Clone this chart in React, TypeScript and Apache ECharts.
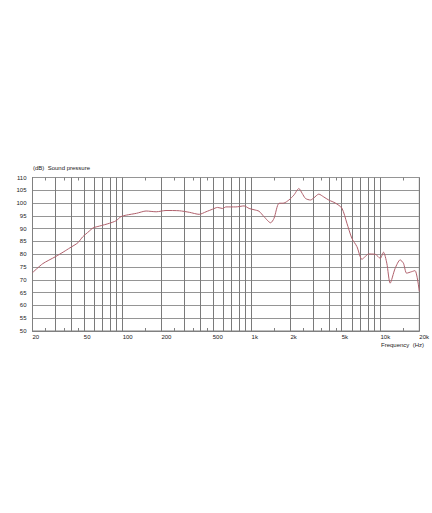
import React, { useEffect, useRef } from "react";
import * as echarts from "echarts";

const frequencies = [
  20, 24, 30, 35, 39, 45, 49, 55, 59, 66, 79, 89, 97, 107, 128, 152, 182, 217, 275, 329,
  393, 443, 498, 544, 595, 632, 755, 875, 957, 1045, 1143, 1248, 1406, 1492, 1630, 1782,
  1946, 2128, 2327, 2468, 2620, 2864, 3037, 3320, 3630, 3965, 4470, 5020, 5490, 6000,
  6560, 7170, 7610, 8070, 9100, 9950, 10550, 11190, 11880, 12990, 14200, 15060, 15950,
  17450, 18530, 20000,
];
const soundPressure = [
  72.8, 76.3, 79, 81, 82.5, 84.5, 86.8, 89, 90.3, 91, 92.1, 93.1, 94.7, 95.3, 96, 96.9,
  96.6, 97.1, 97, 96.4, 95.6, 96.6, 97.6, 98.3, 97.9, 98.5, 98.5, 98.9, 97.9, 97.4, 96.8,
  94.7, 92.3, 94, 99.9, 100, 101.2, 103.1, 105.7, 103.8, 101.8, 101.2, 102, 103.5, 102.4,
  101.2, 100, 98, 92.1, 86.2, 83, 78, 79.1, 80.1, 80, 78.4, 80.8, 76.5, 68.7, 74.5, 77.8,
  76.5, 72.6, 73.2, 73.6, 65.5,
];
const xLabelValues = [20, 50, 100, 200, 500, 1000, 2000, 5000, 10000, 20000];
const xLabelTexts = ["20", "50", "100", "200", "500", "1k", "2k", "5k", "10k", "20k"];
const xGridValues = [
  20, 30, 40, 50, 60, 70, 80, 90, 100, 200, 300, 400, 500, 600, 700, 800, 900, 1000, 2000,
  3000, 4000, 5000, 6000, 7000, 8000, 9000, 10000, 20000,
];
const xMinorTicks = [25, 35, 45, 150, 250, 350, 450, 1500, 2500, 3500, 4500, 15000];
const yMin = 50;
const yMax = 110;
const yStep = 5;
const titleText = "(dB)  Sound pressure";
const xAxisTitle = "Frequency  (Hz)";

const FONT = "'Liberation Sans', Arial, sans-serif";
const FS = 6;

export default function App() {
  const ref = useRef<HTMLDivElement>(null);
  useEffect(() => {
    if (!ref.current) return;
    const chart = echarts.init(ref.current, null, { renderer: "svg" });
    const labelMap: Record<string, string> = {};
    xLabelValues.forEach((v, i) => (labelMap[String(v)] = xLabelTexts[i]));
    const gridPos = { left: 32.5, right: 11, top: 177.5, bottom: 182 };
    const baseLog = {
      type: "log" as const,
      logBase: 10,
      min: 20,
      max: 20000,
      gridIndex: 0,
    };
    chart.setOption({
      animation: false,
      backgroundColor: "#ffffff",
      textStyle: { fontFamily: FONT },
      title: [
        {
          text: titleText,
          left: 28,
          top: 160,
          textStyle: { fontSize: FS, fontWeight: "normal", color: "#222", fontFamily: FONT },
        },
        {
          text: xAxisTitle,
          left: 376,
          top: 337,
          textStyle: { fontSize: FS, fontWeight: "normal", color: "#222", fontFamily: FONT },
        },
      ],
      grid: { ...gridPos, show: true, borderColor: "#808080", borderWidth: 1 },
      xAxis: [
        {
          ...baseLog,
          position: "bottom",
          axisLine: { show: true, lineStyle: { color: "#808080", width: 1 } },
          axisTick: {
            show: true,
            inside: true,
            length: 3,
            customValues: xMinorTicks,
            lineStyle: { color: "#808080" },
          },
          splitLine: { show: false },
          axisLabel: {
            show: true,
            customValues: xLabelValues,
            formatter: (v: number) => labelMap[String(Math.round(v))] ?? "",
            fontSize: FS,
            color: "#222",
            align: "left",
            margin: 3,
            fontFamily: FONT,
          },
        },
        {
          ...baseLog,
          position: "top",
          axisLine: { show: false },
          axisTick: {
            show: true,
            inside: true,
            length: 3,
            customValues: xMinorTicks,
            lineStyle: { color: "#808080" },
          },
          axisLabel: { show: false },
          splitLine: { show: false },
        },
        {
          ...baseLog,
          position: "bottom",
          axisLine: { show: false },
          axisTick: { show: false, customValues: xGridValues },
          axisLabel: { show: false },
          splitLine: { show: true, lineStyle: { color: "#7a7a7a", width: 1 } },
        },
      ],
      yAxis: {
        type: "value",
        min: yMin,
        max: yMax,
        interval: yStep,
        axisLine: { show: true, lineStyle: { color: "#808080" } },
        axisTick: { show: false },
        splitLine: { show: true, lineStyle: { color: "#959595", width: 1 } },
        axisLabel: { fontSize: FS, color: "#222", margin: 6, fontFamily: FONT },
      },
      series: [
        {
          type: "line",
          xAxisIndex: 0,
          data: frequencies.map((f, i) => [f, soundPressure[i]]),
          showSymbol: false,
          smooth: 0.25,
          lineStyle: { color: "#b0606c", width: 1 },
          silent: true,
        },
      ],
    });
    return () => chart.dispose();
  }, []);
  return (
    <div
      ref={ref}
      style={{ position: "fixed", left: 0, top: 0, width: 432, height: 513, background: "#fff" }}
    />
  );
}
